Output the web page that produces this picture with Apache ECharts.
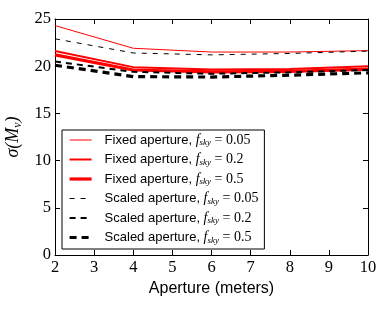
<!DOCTYPE html>
<html><head><meta charset="utf-8">
<script src="https://cdn.jsdelivr.net/npm/echarts@6/dist/echarts.min.js"></script>
<style>html,body{margin:0;padding:0;background:#fff}#c{width:388px;height:310px}</style>
</head><body><div id="c"></div>
<script>
const apertures = [2, 4, 6, 8, 10];
const fixed005 = [24.3, 21.9, 21.5, 21.5, 21.65];
const fixed02  = [21.6, 19.9, 19.65, 19.7, 20.0];
const fixed05  = [21.2, 19.6, 19.4, 19.45, 19.7];
const scaled005 = [22.9, 21.4, 21.2, 21.35, 21.6];
const scaled02  = [20.5, 19.4, 19.2, 19.35, 19.6];
const scaled05  = [20.1, 18.9, 18.85, 19.05, 19.3];
const fskyLabels = ['0.05', '0.2', '0.5'];
const xTicks = [2,3,4,5,6,7,8,9,10];
const yTicks = [0,5,10,15,20,25];

const serif = 'Liberation Serif';
function pairs(v){ return apertures.map((a,i)=>[a, v[i]]); }
const defs = [
  {name:'Fixed aperture, f=' + fskyLabels[0], data:fixed005, color:'#ff0000', w:1, type:'solid'},
  {name:'Fixed aperture, f=' + fskyLabels[1], data:fixed02, color:'#ff0000', w:2, type:'solid'},
  {name:'Fixed aperture, f=' + fskyLabels[2], data:fixed05, color:'#ff0000', w:3.2, type:'solid'},
  {name:'Scaled aperture, f=' + fskyLabels[0], data:scaled005, color:'#000000', w:1, type:[5,6]},
  {name:'Scaled aperture, f=' + fskyLabels[1], data:scaled02, color:'#000000', w:2, type:[6,5]},
  {name:'Scaled aperture, f=' + fskyLabels[2], data:scaled05, color:'#000000', w:3.2, type:[7,5]}
];
const chart = echarts.init(document.getElementById('c'), null, {renderer:'canvas'});
const axisCommon = {
  type:'value', min:0, max:25, interval:5,
  axisLine:{show:true, lineStyle:{color:'#000', width:1}},
  axisTick:{show:true, inside:true, length:5, lineStyle:{color:'#000'}},
  splitLine:{show:false}
};
chart.setOption({
  animation:false,
  grid:{left:55, right:20, top:19, bottom:55, containLabel:false, outerBoundsMode:'none'},
  legend:{
    orient:'vertical', left:62, top:130,
    backgroundColor:'#fff', borderColor:'#000', borderWidth:1, borderRadius:0,
    padding:[3,6,4,6], itemWidth:22, itemHeight:14, itemGap:5,
    itemStyle:{color:'rgba(0,0,0,0)', borderWidth:0, borderColor:'rgba(0,0,0,0)', opacity:0},
    data:defs.map(d=>({name:d.name, lineStyle:{color:d.color, width:d.w, type:d.type}})),
    formatter: function(n){
      const parts = n.split(', f=');
      return '{t|' + parts[0] + ', }{i|f}{s|sky}{t2| = ' + parts[1] + '}';
    },
    textStyle:{
      color:'#000', fontSize:13, fontFamily:'Liberation Sans',
      rich:{
        t:{fontSize:13, fontFamily:'Liberation Sans', color:'#000', padding:[0,0,0,8]},
        i:{fontSize:14, fontFamily:serif, fontStyle:'italic', color:'#000'},
        s:{fontSize:9, fontFamily:serif, fontStyle:'italic', color:'#000', verticalAlign:'bottom', padding:[6,0,0,0]},
        t2:{fontSize:14, fontFamily:serif, color:'#000'}
      }
    }
  },
  xAxis:[
    {type:'value', min:2, max:10, interval:1, position:'bottom',
     name:'Aperture (meters)', nameLocation:'middle', nameGap:23,
     nameTextStyle:{fontFamily:'Liberation Sans', fontSize:16, color:'#000'},
     axisLine:{show:true, onZero:false, lineStyle:{color:'#000', width:1}},
     axisTick:{show:true, inside:true, length:5, lineStyle:{color:'#000'}},
     axisLabel:{color:'#000', fontFamily:serif, fontSize:16.5, margin:4,
       formatter: v => xTicks.includes(v) ? String(v) : ''},
     splitLine:{show:false}},
    {type:'value', min:2, max:10, interval:1, position:'top',
     axisLine:{show:true, onZero:false, lineStyle:{color:'#000', width:1}},
     axisTick:{show:true, inside:true, length:5, lineStyle:{color:'#000'}},
     axisLabel:{show:false}, splitLine:{show:false}}
  ],
  yAxis:[
    Object.assign({}, axisCommon, {position:'left',
      name:'{g|σ(}{i|M}{s|ν}{g|)}', nameLocation:'middle', nameGap:31, nameRotate:90,
      nameTextStyle:{color:'#000', fontSize:18, fontFamily:serif,
        rich:{
          g:{fontSize:18, fontFamily:serif, fontStyle:'italic', color:'#000'},
          i:{fontSize:18, fontFamily:serif, fontStyle:'italic', color:'#000'},
          s:{fontSize:12, fontFamily:serif, fontStyle:'italic', color:'#000', verticalAlign:'bottom', padding:[9,0,0,0]}
        }},
      axisLabel:{color:'#000', fontFamily:serif, fontSize:16.5, margin:4,
        formatter: v => yTicks.includes(v) ? String(v) : ''}}),
    Object.assign({}, axisCommon, {position:'right', axisLabel:{show:false}})
  ],
  series: defs.map(d=>({
    name:d.name, type:'line', xAxisIndex:0, yAxisIndex:0,
    data:pairs(d.data), symbol:'none', showSymbol:false,
    lineStyle:{color:d.color, width:d.w, type:d.type},
    itemStyle:{color:d.color}
  }))
});
</script></body></html>
